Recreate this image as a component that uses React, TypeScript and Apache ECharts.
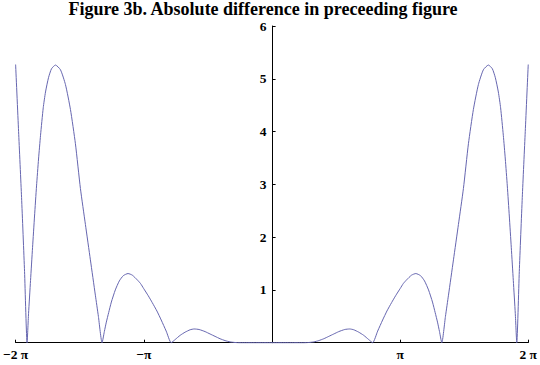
import React, { useEffect, useRef } from "react";
import * as echarts from "echarts";

const TITLE = "Figure 3b. Absolute difference in preceeding figure";

// x positions (radians) and |difference| values, left half
const leftX = [
  -6.283, -6.21, -6.137, -6.064, -6.002, -5.966, -5.917, -5.868, -5.819, -5.77,
  -5.721, -5.672, -5.606, -5.55, -5.477, -5.403, -5.306, -5.183, -5.061, -4.939,
  -4.817, -4.694, -4.572, -4.45, -4.328, -4.254, -4.164, -4.108, -4.059, -4.002,
  -3.936, -3.839, -3.741, -3.643, -3.528, -3.423, -3.301, -3.22, -3.147, -3.032,
  -2.934, -2.819, -2.714, -2.592, -2.469, -2.372, -2.249, -2.127, -2.005, -1.907,
  -1.785, -1.638, -1.516, -1.394, -1.271, -1.149, -1.027, -0.905, -0.782, -0.4, 0,
];
const leftY = [
  5.27, 4.0, 2.75, 1.35, 0, 0.55, 1.18, 1.8, 2.4, 2.97,
  3.48, 3.93, 4.45, 4.75, 5.02, 5.19, 5.26, 5.17, 4.89, 4.42,
  3.77, 2.92, 2.24, 1.57, 0.9, 0.5, 0, 0.21, 0.39, 0.57,
  0.77, 1.0, 1.17, 1.27, 1.31, 1.28, 1.19, 1.12, 1.03, 0.89,
  0.76, 0.6, 0.43, 0.22, 0, 0.06, 0.14, 0.2, 0.245, 0.26,
  0.25, 0.21, 0.165, 0.12, 0.075, 0.04, 0.015, 0.004, 0, 0, 0,
];
// right half
const rightX = [
  0.4, 0.782, 0.905, 1.027, 1.149, 1.271, 1.394, 1.516, 1.638, 1.785,
  1.907, 2.005, 2.127, 2.249, 2.372, 2.469, 2.592, 2.714, 2.819, 2.934,
  3.032, 3.147, 3.22, 3.301, 3.423, 3.528, 3.643, 3.741, 3.839, 3.936,
  4.002, 4.059, 4.108, 4.164, 4.254, 4.328, 4.45, 4.572, 4.694, 4.817,
  4.939, 5.061, 5.183, 5.306, 5.403, 5.477, 5.55, 5.606, 5.672, 5.721,
  5.77, 5.819, 5.868, 5.917, 5.966, 6.002, 6.064, 6.137, 6.21, 6.283,
];
const rightY = [
  0, 0, 0.004, 0.015, 0.04, 0.075, 0.12, 0.165, 0.21, 0.25,
  0.26, 0.245, 0.2, 0.14, 0.06, 0, 0.22, 0.43, 0.6, 0.76,
  0.89, 1.03, 1.12, 1.19, 1.28, 1.31, 1.27, 1.17, 1.0, 0.77,
  0.57, 0.39, 0.21, 0, 0.5, 0.9, 1.57, 2.24, 2.92, 3.77,
  4.42, 4.89, 5.17, 5.26, 5.19, 5.02, 4.75, 4.45, 3.93, 3.48,
  2.97, 2.4, 1.8, 1.18, 0.55, 0, 1.35, 2.75, 4.0, 5.27,
];

const xTickValues = [-2 * Math.PI, -Math.PI, Math.PI, 2 * Math.PI];
const xTickLabels = ["\u22122 \u03c0", "\u2212\u03c0", "\u03c0", "2 \u03c0"];
const yTickValues = [1, 2, 3, 4, 5, 6];

export default function App() {
  const ref = useRef<HTMLDivElement>(null);
  useEffect(() => {
    if (!ref.current) return;
    const chart = echarts.init(ref.current, null, { renderer: "svg" });
    const data = [
      ...leftX.map((x, i) => [x, leftY[i]]),
      ...rightX.map((x, i) => [x, rightY[i]]),
    ];
    const font = "'Liberation Serif', 'Times New Roman', serif";
    chart.setOption({
      animation: false,
      backgroundColor: "#fff",
      grid: { left: 15, right: 11, top: 26, bottom: 22.3, containLabel: false },
      graphic: [
        {
          type: "text",
          x: 263,
          y: 0,
          style: {
            text: TITLE,
            fill: "#000",
            font: `bold 18px ${font}`,
            align: "center",
            verticalAlign: "top",
          },
        },
      ],
      xAxis: {
        type: "value",
        min: -2 * Math.PI,
        max: 2 * Math.PI,
        splitLine: { show: false },
        axisLine: { show: true, onZero: true, lineStyle: { color: "#000", width: 1 } },
        axisTick: {
          show: true,
          inside: true,
          length: 3,
          customValues: xTickValues,
          lineStyle: { color: "#000", width: 1 },
        },
        axisLabel: {
          show: true,
          customValues: xTickValues,
          formatter: (v: number) => {
            const i = xTickValues.findIndex((t) => Math.abs(t - v) < 1e-6);
            return i >= 0 ? xTickLabels[i] : "";
          },
          color: "#000",
          fontFamily: font,
          fontWeight: "bold",
          fontSize: 13.5,
          margin: 5,
        },
      },
      yAxis: {
        type: "value",
        min: 0,
        max: 6,
        interval: 1,
        position: "left",
        offset: -257,
        splitLine: { show: false },
        axisLine: { show: true, onZero: false, lineStyle: { color: "#000", width: 1 } },
        axisTick: {
          show: true,
          inside: true,
          length: 3,
          customValues: yTickValues,
          lineStyle: { color: "#000", width: 1 },
        },
        axisLabel: {
          show: true,
          customValues: yTickValues,
          color: "#000",
          fontFamily: font,
          fontWeight: "bold",
          fontSize: 13.5,
          margin: 6,
        },
      },
      series: [
        {
          type: "line",
          data,
          smooth: 0.2,
          showSymbol: false,
          symbol: "none",
          lineStyle: { color: "#6666b0", width: 1 },
          clip: false,
        },
      ],
    });
    return () => chart.dispose();
  }, []);
  return (
    <div
      ref={ref}
      style={{ position: "fixed", left: 0, top: 0, width: 540, height: 365 }}
    />
  );
}
